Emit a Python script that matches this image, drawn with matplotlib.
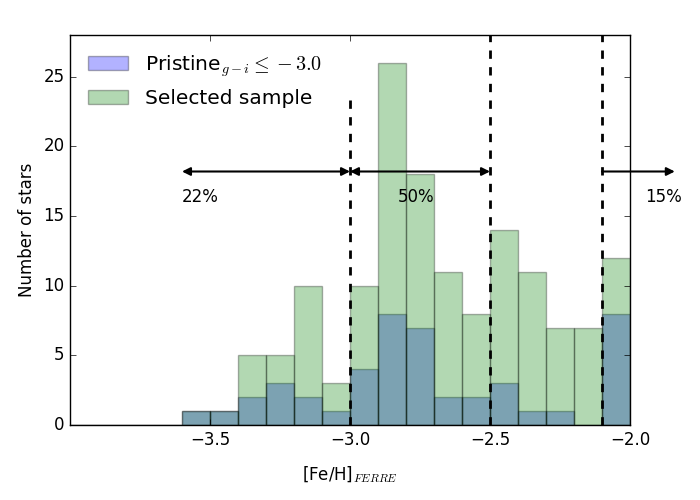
import numpy as np
import matplotlib
matplotlib.use("Agg")
import matplotlib.pyplot as plt

plt.style.use('classic')

# histogram bins in [Fe/H], width 0.1
edges = np.round(np.arange(-4.0, -1.95, 0.1), 2)
centres = (edges[:-1] + edges[1:]) / 2

# counts per bin, from -4.0 to -2.0
pristine_counts = [0, 0, 0, 0, 1, 1, 2, 3, 2, 1, 4, 8, 7, 2, 2, 3, 1, 1, 0, 8]
selected_counts = [0, 0, 0, 0, 1, 1, 5, 5, 10, 3, 10, 26, 18, 11, 8, 14, 11, 7, 7, 12]

# cuts and fractions
cuts = [-3.0, -2.5, -2.1]
ranges = [(-3.6, -3.0), (-3.0, -2.5), (-2.1, -1.84)]
fractions = ['22%', '50%', '15%']
frac_x = [-3.6, -2.83, -1.945]

fig = plt.figure(figsize=(7, 5), dpi=100)
ax = fig.add_subplot(111)
fig.subplots_adjust(left=0.1, right=0.9, bottom=0.15, top=0.93)

ax.hist(centres, bins=edges, weights=pristine_counts, color='b', alpha=0.3,
        label=r'Pristine$_{g-i} \leq -3.0$')
ax.hist(centres, bins=edges, weights=selected_counts, color='g', alpha=0.3,
        label='Selected sample')

ax.plot([cuts[0], cuts[0]], [0, 23.5], 'k--', lw=2)
ax.axvline(cuts[1], color='k', ls='--', lw=2)
ax.axvline(cuts[2], color='k', ls='--', lw=2)

y_arrow = 18.2
for i, (a, b) in enumerate(ranges):
    style = '<|-|>' if i < 2 else '-|>'
    ax.annotate('', xy=(b, y_arrow), xytext=(a, y_arrow),
                arrowprops=dict(arrowstyle=style, color='k', lw=1.5,
                                shrinkA=0, shrinkB=0, mutation_scale=12),
                annotation_clip=False)
for x, t in zip(frac_x, fractions):
    ax.text(x, 16.4, t, fontsize=12, va='center', ha='left', clip_on=False)

ax.set_xlim(-4.0, -2.0)
ax.set_ylim(0, 28)
ax.set_xticks([-3.5, -3.0, -2.5, -2.0])
ax.set_yticks([0, 5, 10, 15, 20, 25])
ax.tick_params(labelsize=12)
ax.set_xlabel(r'[Fe/H]$_{FERRE}$', fontsize=12, labelpad=11)
ax.set_ylabel('Number of stars', fontsize=12)
ax.legend(loc='upper left', frameon=False, fontsize=14.5, handletextpad=0.8)

fig.savefig('out.png', dpi=100)
